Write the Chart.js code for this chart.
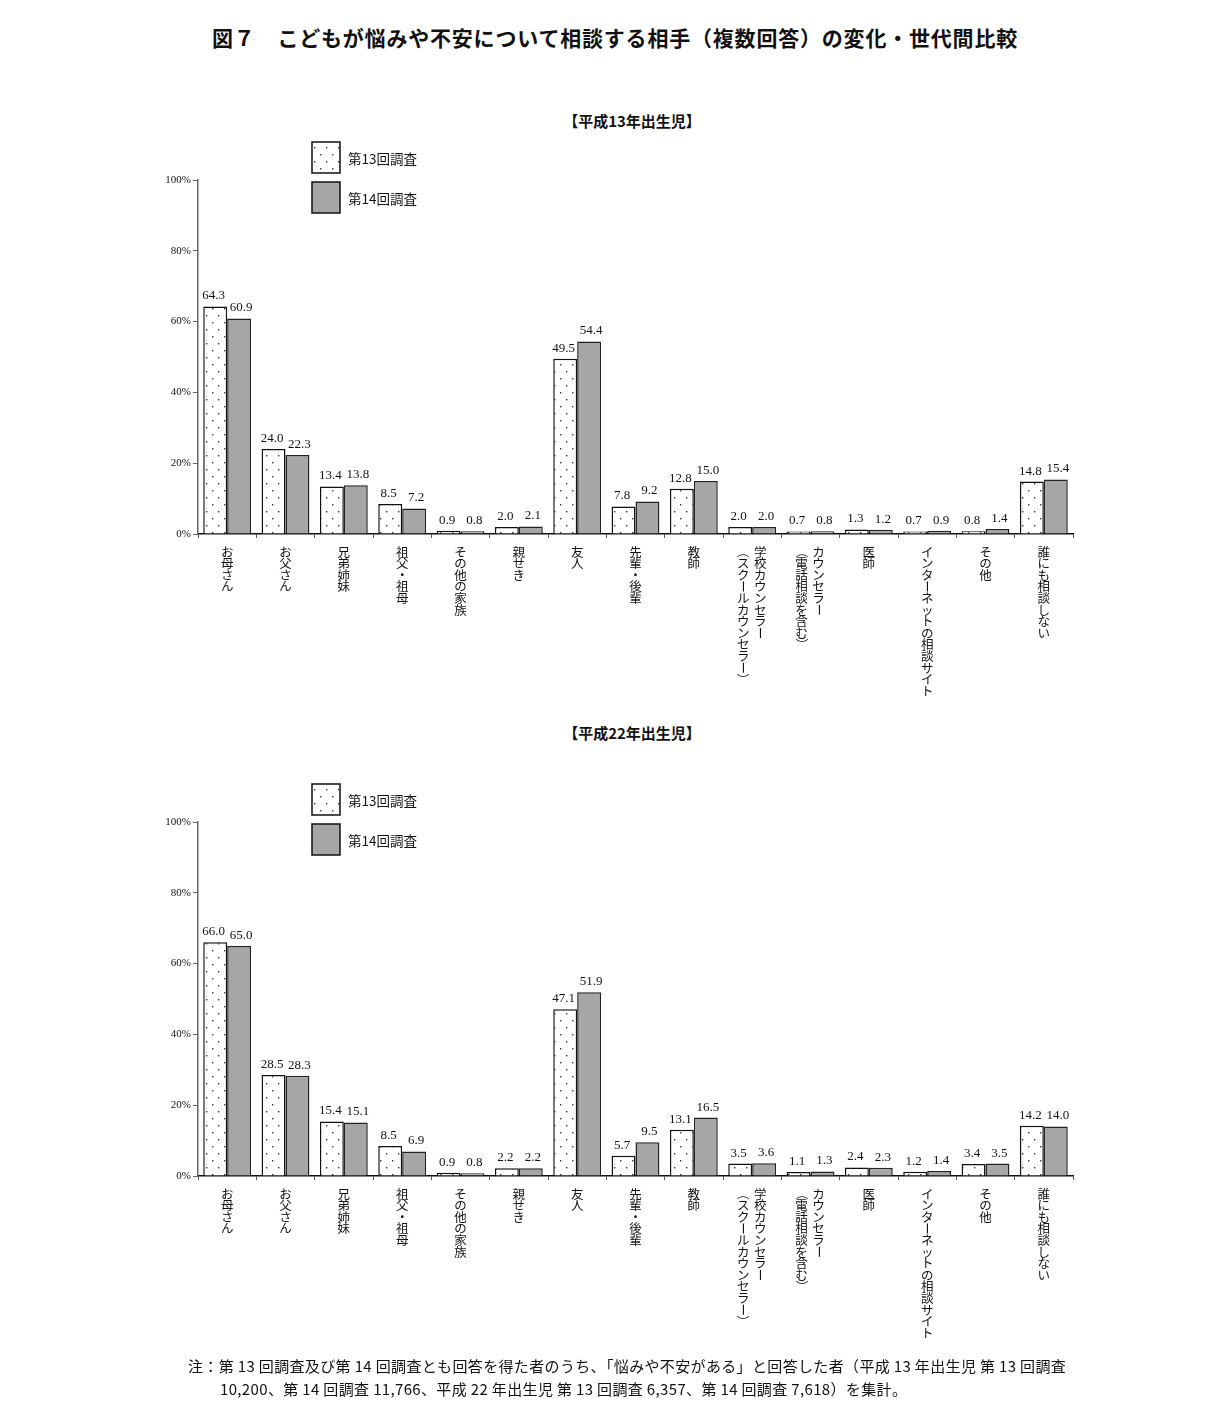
<!DOCTYPE html>
<html lang="ja">
<head>
  <meta charset="UTF-8">
  <title>こどもが悩みや不安について相談する相手</title>
  <script src="https://cdn.jsdelivr.net/npm/chart.js"></script>
  <style>
    body {
      margin: 0;
      width: 1230px;
      height: 1414px;
      background: #fff;
      position: relative;
      font-family: "Noto Sans CJK JP", sans-serif;
      color: #111;
    }
    .title {
      position: absolute;
      top: 22px;
      left: 0;
      width: 1230px;
      text-align: center;
      font-size: 21px;
      font-weight: bold;
      letter-spacing: 0.8px;
    }
    .sub {
      position: absolute;
      left: 0;
      width: 1264px;
      text-align: center;
      font-size: 15px;
      font-weight: bold;
    }
    canvas.chart {
      position: absolute;
      left: 0;
    }
    .note {
      position: absolute;
      left: 188px;
      top: 1354px;
      font-size: 15px;
      line-height: 23px;
      letter-spacing: 0.35px;
      white-space: nowrap;
    }
    .note .l2 {
      padding-left: 32px;
    }
  </style>
</head>
<body>
  <div class="title">図７　こどもが悩みや不安について相談する相手（複数回答）の変化・世代間比較</div>

  <div class="sub" style="top:110px">【平成13年出生児】</div>
  <canvas class="chart" id="chart1" style="top:130px"></canvas>

  <div class="sub" style="top:722px">【平成22年出生児】</div>
  <canvas class="chart" id="chart2" style="top:772px"></canvas>

  <div class="note">
    <div>注：第 13 回調査及び第 14 回調査とも回答を得た者のうち、「悩みや不安がある」と回答した者（平成 13 年出生児 第 13 回調査</div>
    <div class="l2">10,200、第 14 回調査 11,766、平成 22 年出生児 第 13 回調査 6,357、第 14 回調査 7,618）を集計。</div>
  </div>

  <script>
    // categories (each entry = vertical text columns, right to left)
    const categories = [
      ['お母さん'], ['お父さん'], ['兄弟姉妹'], ['祖父・祖母'], ['その他の家族'],
      ['親せき'], ['友人'], ['先輩・後輩'], ['教師'],
      ['学校カウンセラー', '（スクールカウンセラー）'],
      ['カウンセラー', '（電話相談を含む）'],
      ['医師'], ['インターネットの相談サイト'], ['その他'], ['誰にも相談しない']
    ];
    const seriesNames = ['第13回調査', '第14回調査'];

    // 平成13年出生児
    const h13_survey13 = [64.3, 24.0, 13.4, 8.5, 0.9, 2.0, 49.5, 7.8, 12.8, 2.0, 0.7, 1.3, 0.7, 0.8, 14.8];
    const h13_survey14 = [60.9, 22.3, 13.8, 7.2, 0.8, 2.1, 54.4, 9.2, 15.0, 2.0, 0.8, 1.2, 0.9, 1.4, 15.4];

    // 平成22年出生児
    const h22_survey13 = [66.0, 28.5, 15.4, 8.5, 0.9, 2.2, 47.1, 5.7, 13.1, 3.5, 1.1, 2.4, 1.2, 3.4, 14.2];
    const h22_survey14 = [65.0, 28.3, 15.1, 6.9, 0.8, 2.2, 51.9, 9.5, 16.5, 3.6, 1.3, 2.3, 1.4, 3.5, 14.0];

    const yTicks = [0, 20, 40, 60, 80, 100];

    // dotted fill for the 13th survey
    function makeDots() {
      const c = document.createElement('canvas');
      c.width = 12;
      c.height = 14;
      const g = c.getContext('2d');
      g.fillStyle = '#fff';
      g.fillRect(0, 0, 12, 14);
      g.fillStyle = '#333';
      g.fillRect(2, 3, 1.4, 1.4);
      g.fillRect(8, 10, 1.4, 1.4);
      return g.createPattern(c, 'repeat');
    }
    const dots = makeDots();
    const grayFill = '#a6a6a6';

    const rotateChars = 'ー（）';

    // legend, value labels and vertical category labels
    const extras = {
      id: 'extras',
      afterDatasetsDraw(chart) {
        const ctx = chart.ctx;
        const xs = chart.scales.x;
        const area = chart.chartArea;
        ctx.save();

        // value labels (nudged apart a little, like the original)
        ctx.fillStyle = '#111';
        ctx.font = '13px "Liberation Serif", serif';
        ctx.textAlign = 'center';
        ctx.textBaseline = 'bottom';
        chart.data.datasets.forEach((ds, di) => {
          const shift = di === 0 ? -1.5 : 2;
          chart.getDatasetMeta(di).data.forEach((bar, i) => {
            ctx.fillText(ds.data[i].toFixed(1), bar.x + shift, bar.y - 4);
          });
        });

        // vertical category labels
        ctx.font = '12.5px "Noto Sans CJK JP", sans-serif';
        ctx.textBaseline = 'middle';
        const step = 11.6;
        const top0 = area.bottom + 12;
        categories.forEach((cols, i) => {
          const cx = xs.getPixelForValue(i);
          cols.forEach((text, ci) => {
            let x = cx;
            if (cols.length === 2) x = ci === 0 ? cx + 8 : cx - 9;
            Array.from(text).forEach((ch, k) => {
              const y = top0 + k * step + step / 2;
              if (rotateChars.includes(ch)) {
                ctx.save();
                ctx.translate(x, y);
                ctx.rotate(Math.PI / 2);
                ctx.fillText(ch, 0, 0);
                ctx.restore();
              } else {
                ctx.fillText(ch, x, y);
              }
            });
          });
        });

        // legend (stacked boxes)
        ctx.textAlign = 'left';
        ctx.font = '13.5px "Noto Sans CJK JP", sans-serif';
        chart.data.datasets.forEach((ds, di) => {
          const bx = 312, by = 12 + di * 40, bw = 28, bh = 31;
          ctx.fillStyle = ds.backgroundColor;
          ctx.fillRect(bx, by, bw, bh);
          ctx.strokeStyle = '#111';
          ctx.lineWidth = 1.5;
          ctx.strokeRect(bx, by, bw, bh);
          ctx.fillStyle = '#111';
          ctx.fillText(ds.label, 348, by + bh / 2 + 1);
        });
        ctx.restore();
      }
    };

    function drawChart(id, data13, data14) {
      const canvas = document.getElementById(id);
      canvas.width = 1230;
      canvas.height = 590;
      return new Chart(canvas.getContext('2d'), {
        type: 'bar',
        data: {
          labels: categories.map(c => c.join('')),
          datasets: [
            {
              label: seriesNames[0],
              data: data13,
              backgroundColor: dots,
              borderColor: '#111',
              borderWidth: 1.5,
              borderSkipped: 'bottom'
            },
            {
              label: seriesNames[1],
              data: data14,
              backgroundColor: grayFill,
              borderColor: '#222',
              borderWidth: 1.5,
              borderSkipped: 'bottom'
            }
          ]
        },
        options: {
          responsive: false,
          animation: false,
          devicePixelRatio: 1,
          layout: { padding: { top: 50, right: 157, left: 0, bottom: 0 } },
          plugins: {
            legend: { display: false },
            tooltip: { enabled: false }
          },
          datasets: {
            bar: { categoryPercentage: 0.82, barPercentage: 1.0 }
          },
          scales: {
            x: {
              ticks: { display: false },
              grid: { display: true, drawOnChartArea: false, drawTicks: true, tickLength: 4, offset: true, color: '#555' },
              border: { display: true, color: '#111', width: 1.5 },
              afterFit(scale) { scale.height = 186; }
            },
            y: {
              min: 0,
              max: 100,
              afterBuildTicks(scale) { scale.ticks = yTicks.map(v => ({ value: v })); },
              ticks: {
                callback: v => v + '%',
                font: { family: '"Liberation Serif", serif', size: 11 },
                color: '#111',
                padding: 2
              },
              grid: { display: true, drawOnChartArea: false, drawTicks: true, tickLength: 5, color: '#666' },
              border: { display: true, color: '#666', width: 1.5 },
              afterFit(scale) { scale.width = 198; }
            }
          }
        },
        plugins: [extras]
      });
    }

    drawChart('chart1', h13_survey13, h13_survey14);
    drawChart('chart2', h22_survey13, h22_survey14);
  </script>
</body>
</html>
